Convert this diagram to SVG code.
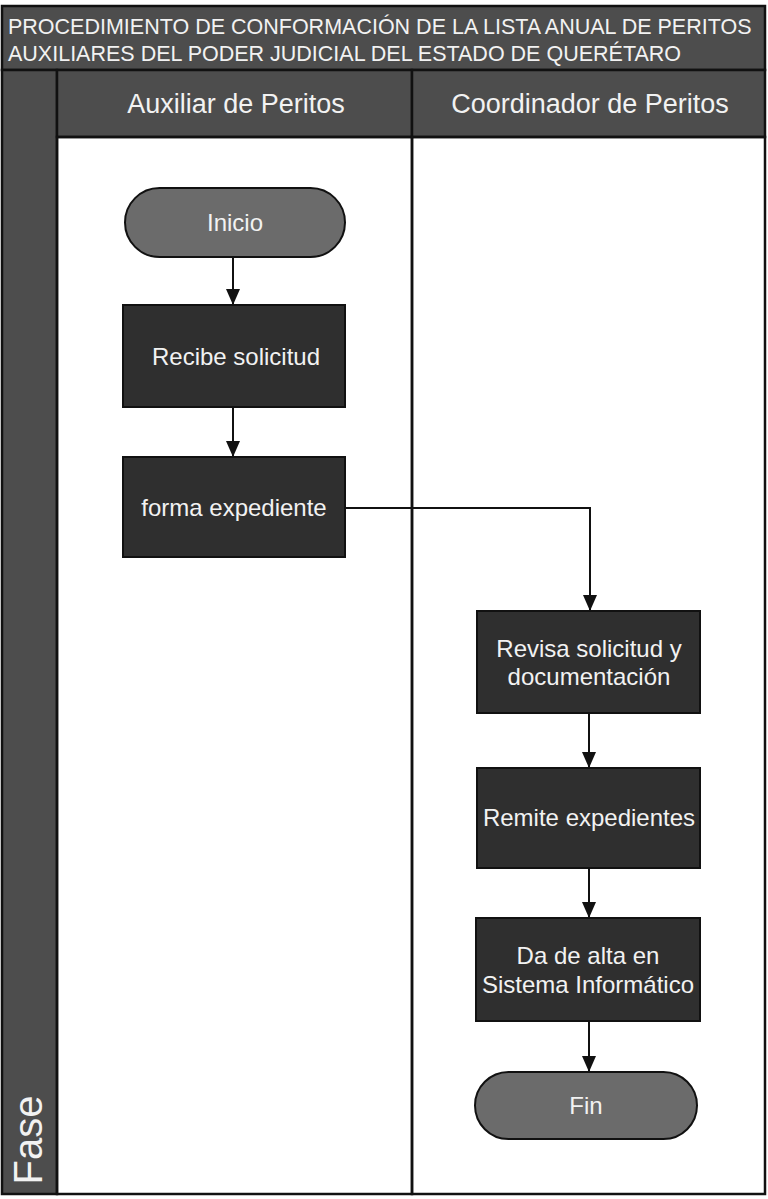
<svg xmlns="http://www.w3.org/2000/svg" width="768" height="1199" viewBox="0 0 768 1199">
<defs>
<style>
.frame{fill:none;stroke:#111;stroke-width:2.5}
.hdr{fill:#4d4d4d;stroke:#111;stroke-width:2.5}
.proc{fill:#2f2f2f;stroke:#111;stroke-width:2}
.term{fill:#6b6b6b;stroke:#111;stroke-width:2}
.t{font-family:"Liberation Sans","Open Sans",sans-serif;fill:#f2f2f2;text-anchor:middle}
.title{font-family:"Liberation Sans","Open Sans",sans-serif;fill:#f2f2f2;font-size:21.5px}
.lane{font-size:27px}
.node{font-size:24px}
.conn{fill:none;stroke:#111;stroke-width:2}
</style>
<marker id="arr" viewBox="0 0 16 14" refX="16" refY="7" markerWidth="16" markerHeight="14" markerUnits="userSpaceOnUse" orient="auto">
<path d="M0,0 L16,7 L0,14 Z" fill="#111"/>
</marker>
</defs>
<rect width="768" height="1199" fill="#ffffff"/>
<g id="title">
<rect class="hdr" x="2" y="6" width="763" height="64"/>
<text class="title" x="8" y="34">PROCEDIMIENTO DE CONFORMACIÓN DE LA LISTA ANUAL DE PERITOS</text>
<text class="title" x="8" y="61">AUXILIARES DEL PODER JUDICIAL DEL ESTADO DE QUERÉTARO</text>
</g>
<g id="fase">
<rect class="hdr" x="2" y="70" width="55" height="1124"/>
<text class="t" transform="translate(42,1140) rotate(-90)" style="font-size:40px">Fase</text>
</g>
<g id="lane-auxiliar">
<rect class="hdr" x="57" y="70" width="355" height="67"/>
<rect class="frame" x="57" y="137" width="355" height="1057"/>
<text class="t lane" x="236" y="113">Auxiliar de Peritos</text>
</g>
<g id="lane-coordinador">
<rect class="hdr" x="412" y="70" width="353" height="67"/>
<rect class="frame" x="412" y="137" width="353" height="1057"/>
<text class="t lane" x="590" y="113">Coordinador de Peritos</text>
</g>
<g id="connectors">
<line class="conn" x1="233" y1="257" x2="233" y2="305" marker-end="url(#arr)"/>
<line class="conn" x1="233" y1="407" x2="233" y2="457" marker-end="url(#arr)"/>
<polyline class="conn" points="345,508 590,508 590,611" marker-end="url(#arr)"/>
<line class="conn" x1="589" y1="713" x2="589" y2="768" marker-end="url(#arr)"/>
<line class="conn" x1="589" y1="868" x2="589" y2="918" marker-end="url(#arr)"/>
<line class="conn" x1="589" y1="1021" x2="589" y2="1072" marker-end="url(#arr)"/>
</g>
<g id="inicio">
<rect class="term" x="125" y="188" width="220" height="69" rx="34.5"/>
<text class="t node" x="235" y="231">Inicio</text>
</g>
<g id="recibe-solicitud">
<rect class="proc" x="123" y="305" width="222" height="102"/>
<text class="t node" x="236" y="365">Recibe solicitud</text>
</g>
<g id="forma-expediente">
<rect class="proc" x="123" y="457" width="222" height="100"/>
<text class="t node" x="234" y="516">forma expediente</text>
</g>
<g id="revisa-solicitud">
<rect class="proc" x="477" y="611" width="223" height="102"/>
<text class="t node" x="589" y="657">Revisa solicitud y</text>
<text class="t node" x="589" y="685">documentación</text>
</g>
<g id="remite-expedientes">
<rect class="proc" x="477" y="768" width="223" height="100"/>
<text class="t node" x="589" y="826">Remite expedientes</text>
</g>
<g id="da-de-alta">
<rect class="proc" x="476" y="918" width="224" height="103"/>
<text class="t node" x="588" y="964">Da de alta en</text>
<text class="t node" x="588" y="993">Sistema Informático</text>
</g>
<g id="fin">
<rect class="term" x="475" y="1072" width="222" height="67" rx="33.5"/>
<text class="t node" x="586" y="1114">Fin</text>
</g>
</svg>
